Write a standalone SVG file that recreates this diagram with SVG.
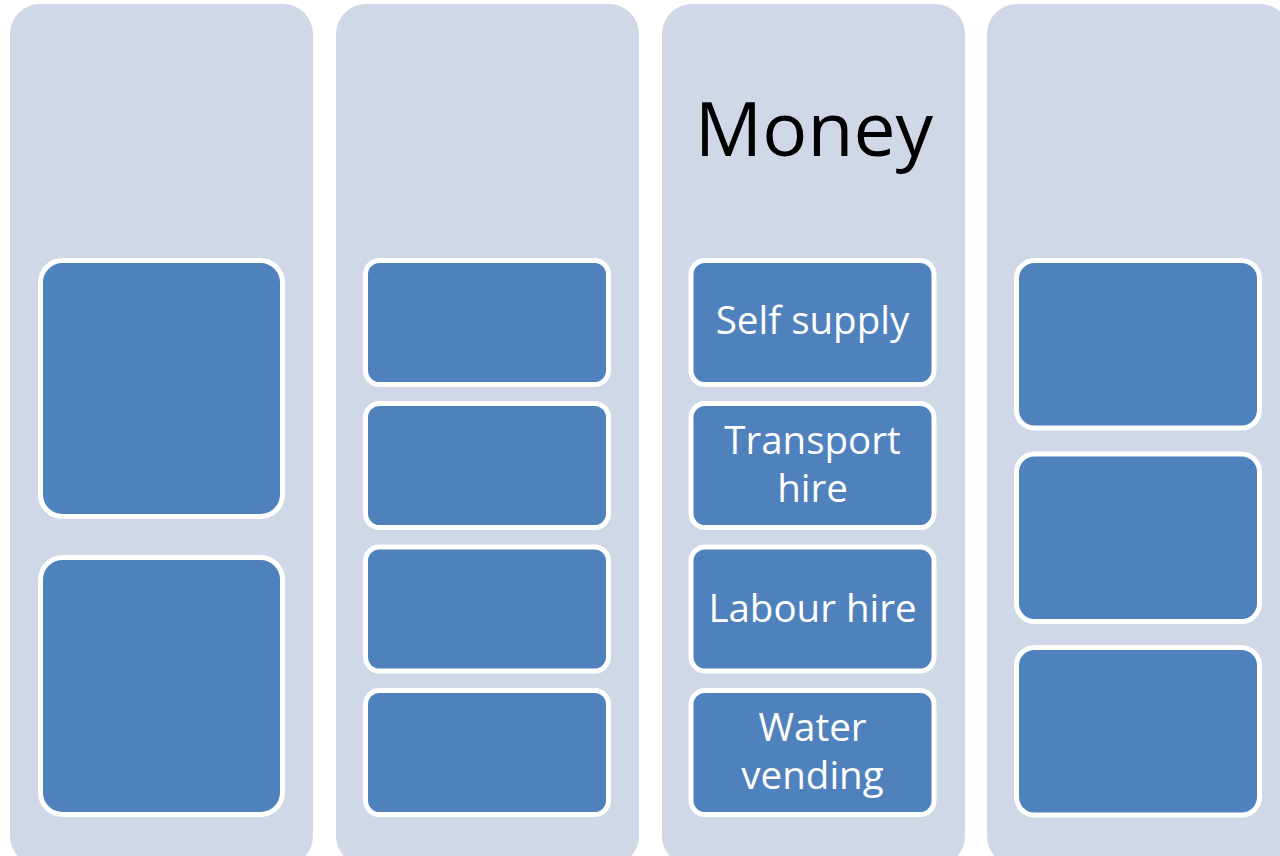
<svg xmlns="http://www.w3.org/2000/svg" width="1280" height="856" viewBox="0 0 1280 856">
<style>
.col{fill:#D0D8E8}
.box{fill:#4F81BD;stroke:#FFFFFF;stroke-width:5}
.lbl{font-family:"Open Sans","DejaVu Sans",sans-serif;font-size:38.5px;fill:#FFFFFF;text-anchor:middle}
.ttl{font-family:"Open Sans","DejaVu Sans",sans-serif;font-size:75px;fill:#000000;text-anchor:middle}
</style>
<rect width="1280" height="856" fill="#FFFFFF"/>
<g id="col1">
<rect class="col" x="10" y="4" width="303" height="862" rx="30"/>
<rect class="box" x="40.5" y="260.5" width="242" height="256" rx="22"/>
<rect class="box" x="40.5" y="557.5" width="242" height="257" rx="22"/>
</g>
<g id="col2">
<rect class="col" x="336" y="4" width="303" height="862" rx="30"/>
<rect class="box" x="365.5" y="260.5" width="243" height="124" rx="14"/>
<rect class="box" x="365.5" y="403.5" width="243" height="124" rx="14"/>
<rect class="box" x="365.5" y="547" width="243" height="124" rx="14"/>
<rect class="box" x="365.5" y="690.5" width="243" height="124" rx="14"/>
</g>
<g id="col3">
<rect class="col" x="662" y="4" width="303" height="862" rx="30"/>
<text class="ttl" x="814" y="156">Money</text>
<g id="self-supply">
<rect class="box" x="691" y="260.5" width="243" height="124" rx="14"/>
<text class="lbl" x="812.5" y="334">Self supply</text>
</g>
<g id="transport-hire">
<rect class="box" x="691" y="403.5" width="243" height="124" rx="14"/>
<text class="lbl"><tspan x="812.5" y="453.5">Transport</tspan><tspan x="812.5" y="501.5">hire</tspan></text>
</g>
<g id="labour-hire">
<rect class="box" x="691" y="547" width="243" height="124" rx="14"/>
<text class="lbl" x="812.5" y="621.5">Labour hire</text>
</g>
<g id="water-vending">
<rect class="box" x="691" y="690.5" width="243" height="124" rx="14"/>
<text class="lbl"><tspan x="812.5" y="740.5">Water</tspan><tspan x="812.5" y="788.5">vending</tspan></text>
</g>
</g>
<g id="col4">
<rect class="col" x="987" y="4" width="303" height="862" rx="30"/>
<rect class="box" x="1016.5" y="260.5" width="243" height="167.5" rx="18"/>
<rect class="box" x="1016.5" y="454" width="243" height="167.5" rx="18"/>
<rect class="box" x="1016.5" y="647.5" width="243" height="167.5" rx="18"/>
</g>
<g id="connectors"></g>
</svg>
